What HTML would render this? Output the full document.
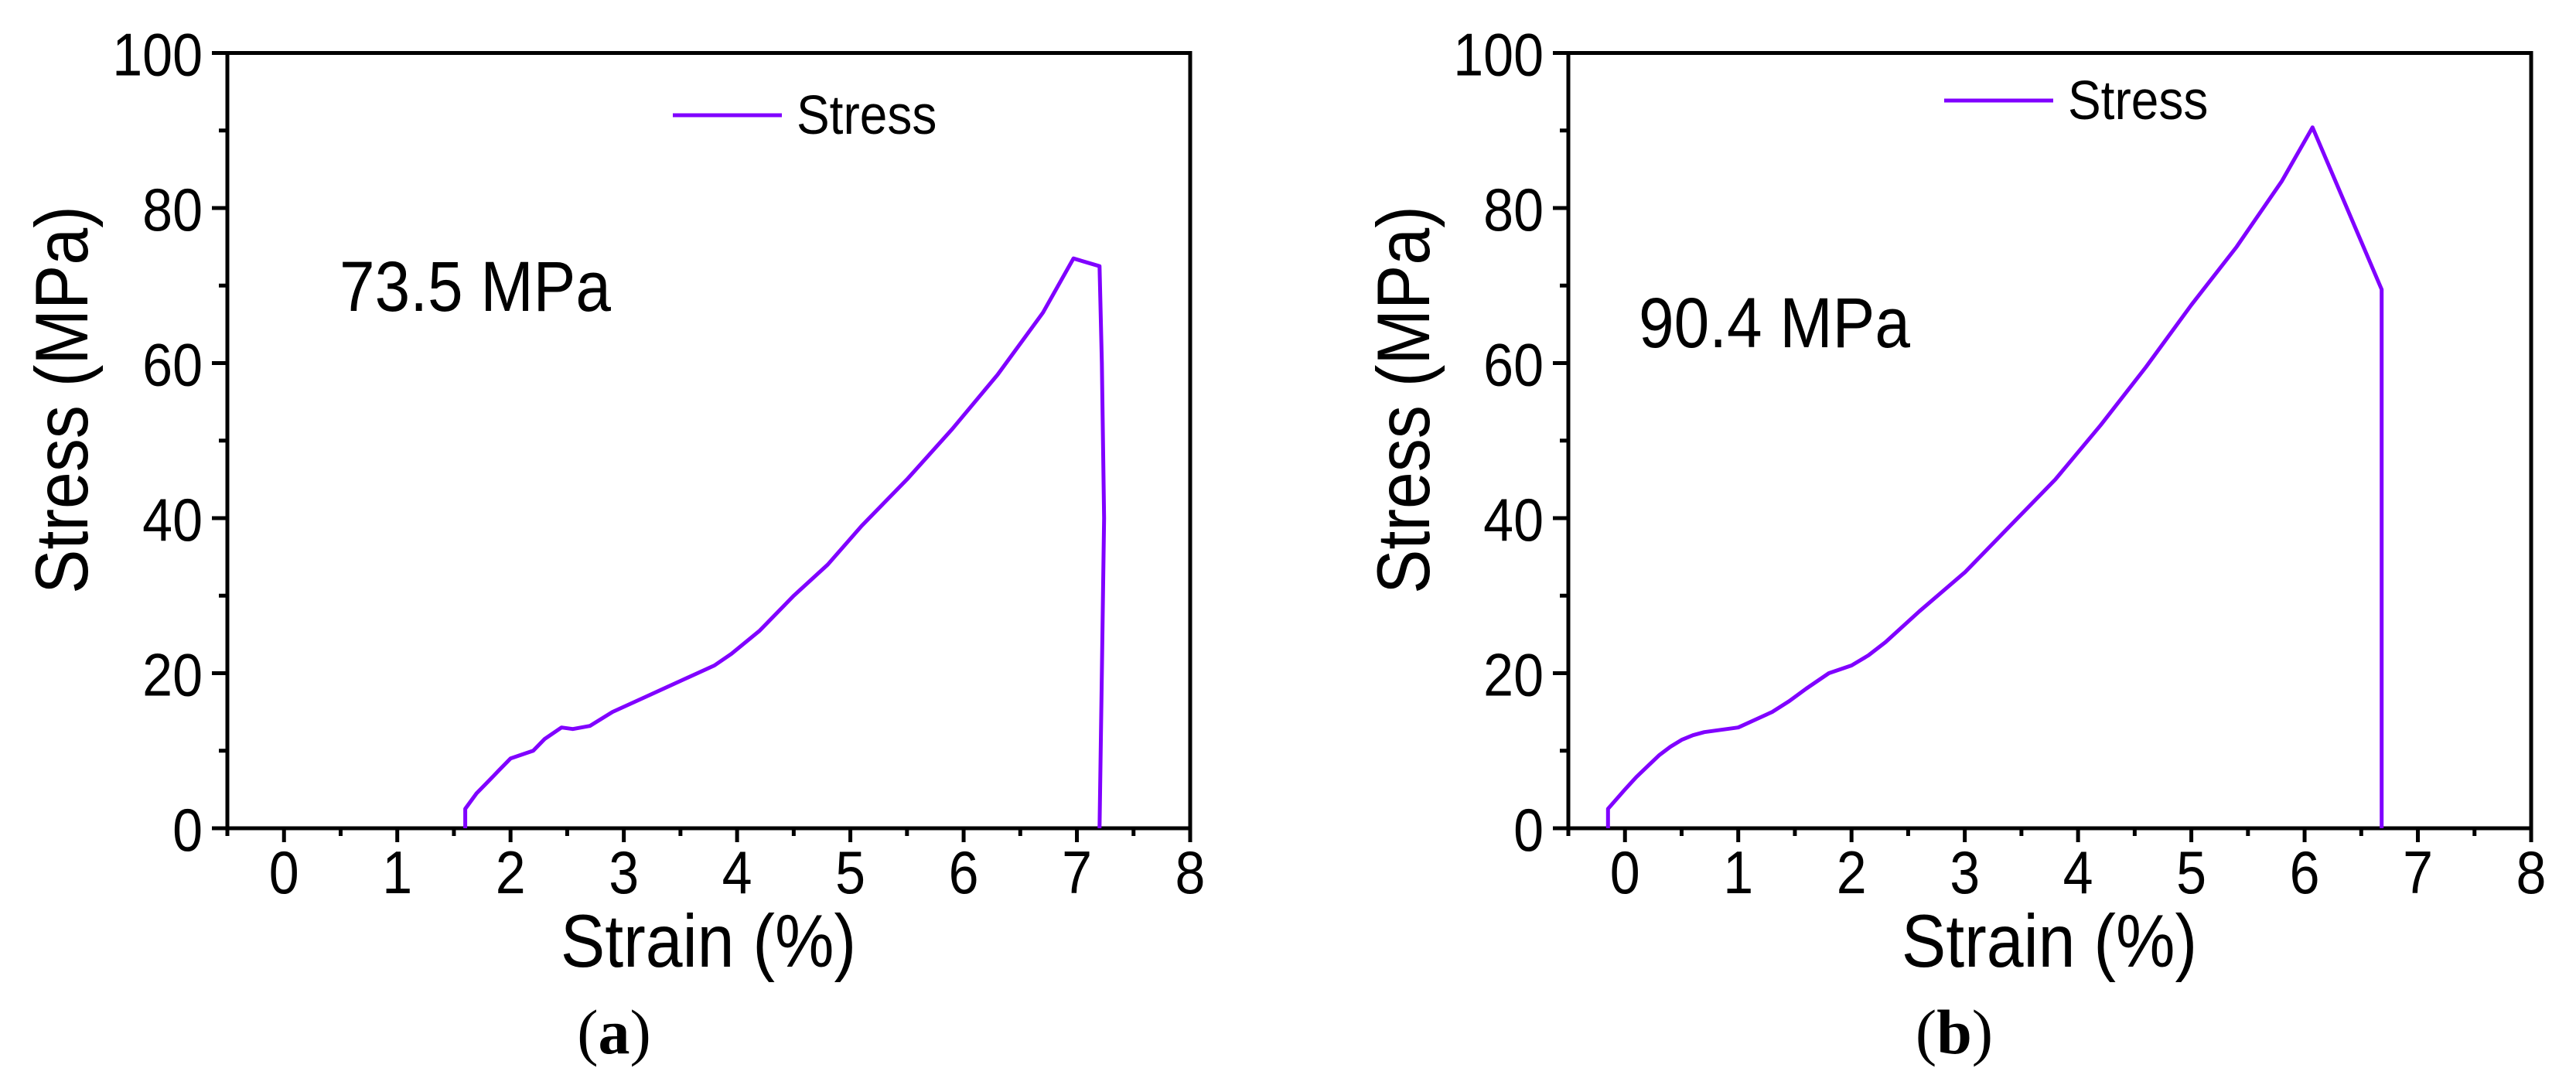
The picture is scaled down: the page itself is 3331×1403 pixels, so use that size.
<!DOCTYPE html>
<html><head><meta charset="utf-8"><style>
html,body{margin:0;padding:0;background:#fff;}
svg{display:block;}
text{font-family:"Liberation Sans",Arial,sans-serif;fill:#000;}
</style></head><body>
<svg id="fig" width="3331" height="1403" viewBox="0 0 3331 1403" xmlns="http://www.w3.org/2000/svg"></svg>
<script>
const xTicks = [0,1,2,3,4,5,6,7,8];
const yTicks = [0,20,40,60,80,100];
const strainA = [1.6,1.6,1.7,1.8,1.9,2.0,2.1,2.2,2.3,2.45,2.55,2.7,2.9,3.2,3.5,3.8,3.95,4.2,4.5,4.8,5.1,5.5,5.9,6.3,6.7,6.97,7.2,7.22,7.24,7.22,7.2];
const stressA = [0,2.5,4.5,6,7.5,9,9.5,10,11.5,13,12.8,13.2,15,17,19,21,22.5,25.5,30,34,39,45,51.5,58.5,66.5,73.5,72.5,60,40,20,0];
const strainB = [-0.15,-0.15,0,0.1,0.2,0.3,0.4,0.5,0.6,0.7,0.8,1.0,1.15,1.3,1.45,1.6,1.8,2.0,2.15,2.3,2.6,3.0,3.4,3.8,4.2,4.6,5.0,5.4,5.8,6.07,6.68,6.68];
const stressB = [0,2.5,5,6.6,8,9.4,10.5,11.4,12,12.4,12.6,13,14,15,16.4,18,20,21,22.3,24,28,33,39,45,52,59.5,67.5,75,83.5,90.4,69.5,0];
const NS = "http://www.w3.org/2000/svg";
const svg = document.getElementById('fig');
function mk(tag, attrs, parent, txt){
  const e = document.createElementNS(NS, tag);
  for (const k in attrs) e.setAttribute(k, attrs[k]);
  if (txt !== undefined) e.textContent = txt;
  (parent||svg).appendChild(e);
  return e;
}
function txt(parent, x, y, size, s, anchor, rot){
  const tr = 'translate(' + x + ',' + y + ')' + (rot ? ' rotate(-90)' : '') + ' scale(1,1.12)';
  return mk('text', {x:0, y:0, 'font-size':size, 'text-anchor':anchor||'start', transform:tr}, parent, s);
}
function panel(id, left, strain, stress, peakLabel, annX, annY, legX, legY, titleYX, label, labelX){
  const right = left + 1245, top = 68.5, bottom = 1071;
  const xs = v => left + (v + 0.5) / 8.5 * (right - left);
  const ys = v => bottom - v / 100 * (bottom - top);
  const g = mk('g', {});
  
  
  const fr = mk('rect', {x:left, y:top, width:right-left, height:bottom-top, fill:'none', stroke:'#000', 'stroke-width':5}, g);
  
  
  for (let v = -0.5; v <= 8.001; v += 0.5) {
    const major = Math.abs(v - Math.round(v)) < 1e-6 && v >= 0;
    mk('line', {x1:xs(v), x2:xs(v), y1:bottom, y2:bottom + (major ? 18 : 10), stroke:'#000', 'stroke-width':5}, g);
  }
  xTicks.forEach(v => {
    const t = txt(g, xs(v), 1155, 70, String(v), 'middle');
    
    
  });
  for (let v = 0; v <= 100; v += 10) {
    const major = v % 20 === 0;
    mk('line', {x1:left - (major ? 20 : 11), x2:left, y1:ys(v), y2:ys(v), stroke:'#000', 'stroke-width':5}, g);
  }
  yTicks.forEach(v => {
    const t = txt(g, left - 32, ys(v) + 29, 70, String(v), 'end');
    
    
  });
  const xt = txt(g, left + 622, 1250, 86, 'Strain (%)', 'middle');
  
  
  const yt = txt(g, titleYX + 34, 517, 86, 'Stress (MPa)', 'middle', true);
  
  
  const d = strain.map((v, i) => (i ? 'L' : 'M') + xs(v).toFixed(1) + ',' + ys(stress[i]).toFixed(1)).join(' ');
  const p = mk('path', {d:d, fill:'none', stroke:'#8000ff', 'stroke-width':5, 'stroke-linejoin':'round'}, g);
  
  
  const lg = mk('g', {}, g);
  
  
  mk('line', {x1:legX, x2:legX + 141, y1:legY, y2:legY, stroke:'#8000ff', 'stroke-width':5}, lg);
  txt(lg, legX + 160, legY + 24, 64, 'Stress');
  const an = txt(g, annX, annY, 82, peakLabel);
  
  
  const pl = mk('text', {x:labelX, y:1362, 'font-size':82, 'text-anchor':'middle', style:'font-family:"Liberation Serif",serif'}, g);
  
  
  mk('tspan', {}, pl, '(');
  mk('tspan', {'font-weight':'bold'}, pl, label);
  mk('tspan', {}, pl, ')');
}
panel('a', 294, strainA, stressA, '73.5 MPa', 439, 402, 870, 149, 79, 'a', 794);
panel('b', 2028, strainB, stressB, '90.4 MPa', 2119, 449, 2514, 130, 1814, 'b', 2527);
</script>
</body></html>
